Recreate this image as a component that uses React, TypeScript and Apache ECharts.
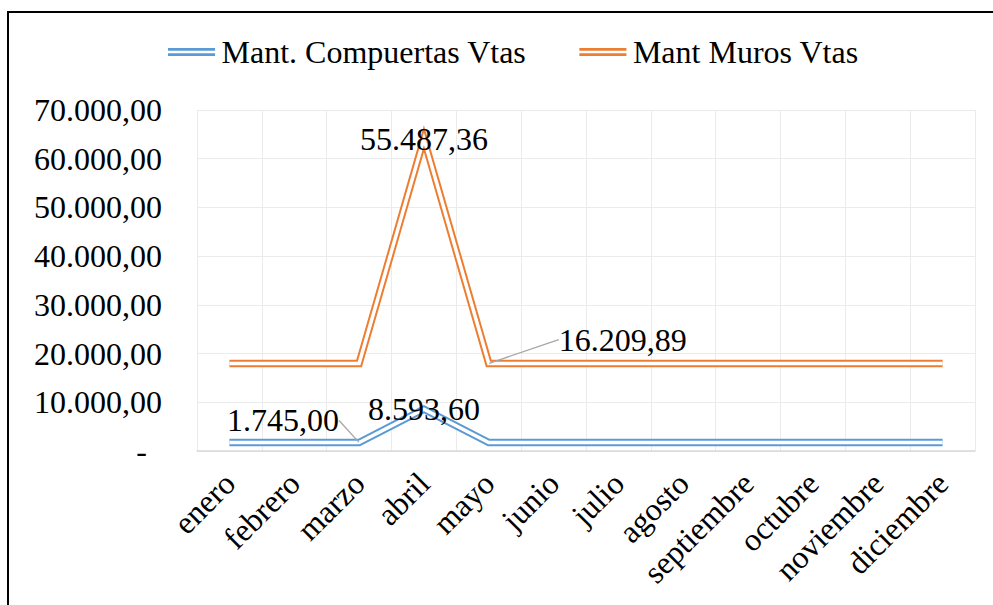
import React, { useEffect, useRef } from "react";
import * as echarts from "echarts";

const months = ["enero", "febrero", "marzo", "abril", "mayo", "junio", "julio", "agosto", "septiembre", "octubre", "noviembre", "diciembre"];
const compuertas = [1745, 1745, 1745, 8593.6, 1745, 1745, 1745, 1745, 1745, 1745, 1745, 1745];
const muros = [16209.89, 16209.89, 16209.89, 55487.36, 16209.89, 16209.89, 16209.89, 16209.89, 16209.89, 16209.89, 16209.89, 16209.89];
const yTicks = { min: 0, max: 70000, interval: 10000 };
const compLabelIdx = [2, 3];
const murosLabelIdx = [3, 4];
const compLeaderIdx = [2];
const murosLeaderIdx = [4];

const FONT = "Liberation Serif";
const BLUE = "#5B9BD5";
const ORANGE = "#ED7D31";

function fmt(v: number): string {
  const [i, d] = v.toFixed(2).split(".");
  return i.replace(/\B(?=(\d{3})+(?!\d))/g, ".") + "," + d;
}

export default function App() {
  const ref = useRef<HTMLDivElement>(null);
  useEffect(() => {
    if (!ref.current) return;
    const chart = echarts.init(ref.current, null, { renderer: "svg" });
    const mkData = (vals: number[], idx: number[], lead: number[]) =>
      vals.map((v, i) => ({
        value: v,
        label: { show: idx.includes(i) },
        labelLine: { show: lead.includes(i) },
      }));
    const labelCfg = {
      show: false,
      position: "inside",
      fontSize: 32,
      fontFamily: FONT,
      color: "#000",
      formatter: (p: any) => fmt(p.value),
    };
    const labelLine = { show: false, lineStyle: { color: "#A6A6A6", width: 1.3 } };
    const offsets: Record<string, [number, number]> = {
      "1-2": [-76, -22],
      "3-4": [134, -24],
    };
    const lineBase = {
      type: "line",
      symbol: "circle",
      symbolSize: 1,
      showSymbol: true,
      itemStyle: { color: "rgba(0,0,0,0)" },
      emphasis: { disabled: true },
    };
    const legendIcon = "path://M0,0H50V3H0Z M0,5.5H50V8.5H0Z";
    chart.setOption({
      animation: false,
      backgroundColor: "#fff",
      legend: {
        left: 163,
        top: 31,
        itemWidth: 50,
        itemHeight: 8,
        itemGap: 53,
        textStyle: { fontSize: 32, fontFamily: FONT, color: "#000" },
        data: [
          { name: "Mant. Compuertas Vtas", icon: legendIcon, itemStyle: { color: BLUE } },
          { name: "Mant Muros Vtas", icon: legendIcon, itemStyle: { color: ORANGE } },
        ],
      },
      grid: { left: 197, right: 18, top: 110, bottom: 154, containLabel: false },
      xAxis: {
        type: "category",
        data: months,
        boundaryGap: true,
        axisLine: { lineStyle: { color: "#D9D9D9", width: 1.5 } },
        axisTick: { show: false },
        splitLine: { show: true, interval: 0, lineStyle: { color: "#EBEBEB", width: 1 } },
        axisLabel: {
          interval: 0,
          rotate: 45,
          margin: 27,
          fontSize: 32,
          fontFamily: FONT,
          color: "#000",
        },
      },
      yAxis: {
        type: "value",
        min: yTicks.min,
        max: yTicks.max,
        interval: yTicks.interval,
        axisLine: { show: false },
        axisTick: { show: false },
        splitLine: { lineStyle: { color: "#EBEBEB", width: 1 } },
        axisLabel: {
          margin: 35,
          fontSize: 32,
          fontFamily: FONT,
          color: "#000",
          formatter: (v: number) => (v === 0 ? "{d|-}" : fmt(v)),
          rich: { d: { fontSize: 32, fontFamily: FONT, color: "#000", padding: [0, 15, 0, 0] } },
        },
      },
      labelLayout: (p: any) => {
        const o = offsets[p.seriesIndex + "-" + p.dataIndex];
        if (o) return { dx: o[0], dy: o[1] };
        return {};
      },
      series: [
        {
          ...lineBase,
          name: "Mant. Compuertas Vtas",
          stack: "a",
          data: compuertas,
          lineStyle: { color: BLUE, width: 7.5, join: "miter", miterLimit: 20 },
          z: 2,
        },
        {
          ...lineBase,
          name: "w1",
          stack: "b",
          data: mkData(compuertas, compLabelIdx, compLeaderIdx),
          lineStyle: { color: "#fff", width: 3.5, join: "miter", miterLimit: 20 },
          label: labelCfg,
          labelLine,
          z: 3,
        },
        {
          ...lineBase,
          name: "Mant Muros Vtas",
          stack: "a",
          data: muros,
          lineStyle: { color: ORANGE, width: 7.5, join: "miter", miterLimit: 20 },
          z: 4,
        },
        {
          ...lineBase,
          name: "w2",
          stack: "b",
          data: mkData(muros, murosLabelIdx, murosLeaderIdx),
          lineStyle: { color: "#fff", width: 3.5, join: "miter", miterLimit: 20 },
          label: labelCfg,
          labelLine,
          z: 5,
        },
      ],
    });
    return () => chart.dispose();
  }, []);
  return (
    <div style={{ position: "fixed", left: 0, top: 0, width: 993, height: 605, background: "#fff", overflow: "hidden" }}>
      <div ref={ref} style={{ position: "absolute", left: 0, top: 0, width: 993, height: 605 }} />
      <div
        style={{
          position: "absolute",
          left: 7,
          top: 11,
          width: 1100,
          height: 800,
          borderLeft: "2px solid #000",
          borderTop: "2px solid #000",
          pointerEvents: "none",
        }}
      />
    </div>
  );
}
